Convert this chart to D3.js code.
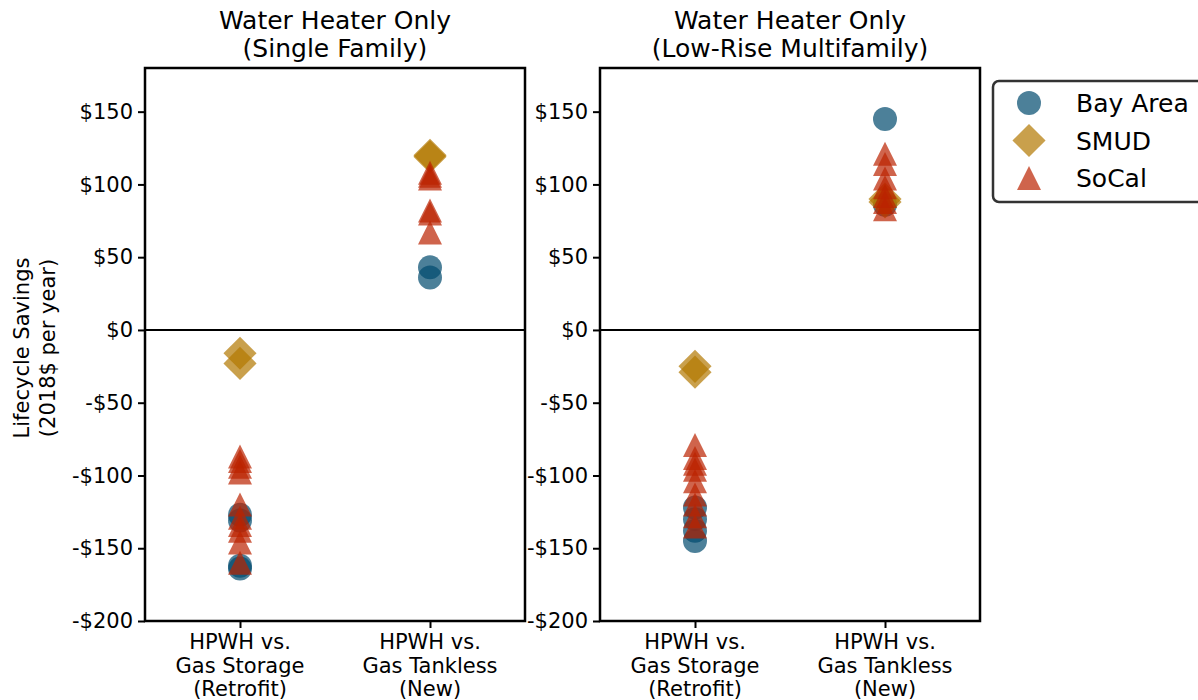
<!DOCTYPE html>
<html><head><meta charset="utf-8">
<script src="https://cdn.jsdelivr.net/npm/d3@7"></script>
<style>body{margin:0;background:#fff}svg{font-family:"DejaVu Sans",sans-serif}</style>
</head><body><svg id="chart" width="1198" height="700"></svg>
<script>
// ---- data ----
const panelTitles = [["Water Heater Only", "(Single Family)"], ["Water Heater Only", "(Low-Rise Multifamily)"]];
const categories = ["retrofit", "new"];
const categoryLabels = [["HPWH vs.", "Gas Storage", "(Retrofit)"], ["HPWH vs.", "Gas Tankless", "(New)"]];
const seriesNames = ["Bay Area", "SMUD", "SoCal"];
const yTicks = [-200, -150, -100, -50, 0, 50, 100, 150];
const yTickLabels = ["-$200", "-$150", "-$100", "-$50", "$0", "$50", "$100", "$150"];
// values per panel [singleFamily, multifamily], per category [retrofit, new]
const bayArea = [[[-127, -131, -162, -164], [43, 36]], [[-122, -130, -138, -145], [145, 86]]];
const smud = [[[-16, -23], [120, 119]], [[-25, -29], [90, 88]]];
const soCal = [
  [[-87, -90, -94, -98, -120, -129, -134, -138, -146, -160], [108, 106, 104, 82, 80, 67]],
  [[-79, -88, -92, -96, -104, -113, -120, -128, -135], [121, 114, 104, 98, 92, 88, 83]]
];

const colors = {"Bay Area": "#004A6D", "SMUD": "#B27700", "SoCal": "#BB2200"};
const seriesData = {"Bay Area": bayArea, "SMUD": smud, "SoCal": soCal};

const svg = d3.select("#chart");
const plotTop = 68, plotBottom = 621;
const panels = [{x0: 145, x1: 525}, {x0: 600, x1: 980}];
const y = d3.scaleLinear().domain([-200, 180]).range([plotBottom, plotTop]);

function markerPath(name, size) {
  if (name === "Bay Area") return d3.symbol(d3.symbolCircle, Math.PI * (size / 2) ** 2)();
  if (name === "SMUD") {
    const h = size * 0.69;
    return `M0,${-h}L${h},0L0,${h}L${-h},0Z`;
  }
  const s = size / 2;
  return `M0,${-s}L${s},${s}L${-s},${s}Z`;
}

panels.forEach((p, pi) => {
  const x = d3.scaleLinear().domain([-0.5, 1.5]).range([p.x0, p.x1]);
  const g = svg.append("g");

  const t = g.append("text").attr("text-anchor", "middle").attr("font-size", 25).attr("fill", "#000");
  panelTitles[pi].forEach((line, i) => t.append("tspan").attr("x", (p.x0 + p.x1) / 2).attr("y", 29 + i * 28).text(line));

  const yAxis = d3.axisLeft(y).tickValues(yTicks).tickFormat((d, i) => yTickLabels[i]).tickSize(7).tickPadding(5);
  const ya = g.append("g").attr("transform", `translate(${p.x0},0)`).call(yAxis);
  ya.select(".domain").remove();
  ya.selectAll("line").attr("stroke", "#000").attr("stroke-width", 2);
  ya.selectAll("text").attr("font-size", 21).attr("font-family", "DejaVu Sans").attr("fill", "#000");

  const xAxis = d3.axisBottom(x).tickValues([0, 1]).tickFormat("").tickSize(7);
  const xa = g.append("g").attr("transform", `translate(0,${plotBottom})`).call(xAxis);
  xa.select(".domain").remove();
  xa.selectAll("line").attr("stroke", "#000").attr("stroke-width", 2);
  categoryLabels.forEach((lines, ci) => {
    const tx = g.append("text").attr("text-anchor", "middle").attr("font-size", 21).attr("fill", "#000");
    lines.forEach((line, li) => tx.append("tspan").attr("x", x(ci)).attr("y", 649 + li * 23.5).text(line));
  });

  g.append("line").attr("x1", p.x0).attr("x2", p.x1).attr("y1", y(0)).attr("y2", y(0))
    .attr("stroke", "#000").attr("stroke-width", 2);

  seriesNames.forEach(name => {
    const vals = seriesData[name][pi];
    categories.forEach((c, ci) => {
      g.selectAll(null).data(vals[ci]).enter().append("path")
        .attr("d", markerPath(name, 24))
        .attr("transform", d => `translate(${x(ci)},${y(d)})`)
        .attr("fill", colors[name]).attr("fill-opacity", 0.7);
    });
  });

  g.append("rect").attr("x", p.x0).attr("y", plotTop).attr("width", p.x1 - p.x0).attr("height", plotBottom - plotTop)
    .attr("fill", "none").attr("stroke", "#000").attr("stroke-width", 2.5);
});

const yl = svg.append("text").attr("text-anchor", "middle").attr("font-size", 21).attr("fill", "#000")
  .attr("transform", "translate(0,348) rotate(-90)");
yl.append("tspan").attr("x", 0).attr("y", 29).text("Lifecycle Savings");
yl.append("tspan").attr("x", 0).attr("y", 55).text("(2018$ per year)");

const lg = svg.append("g");
lg.append("rect").attr("x", 993).attr("y", 81).attr("width", 230).attr("height", 121).attr("rx", 6)
  .attr("fill", "#fff").attr("stroke", "#333").attr("stroke-width", 2.5);
seriesNames.forEach((name, i) => {
  const cy = 103 + i * 37.5;
  lg.append("path").attr("d", markerPath(name, 24)).attr("transform", `translate(1029,${cy})`)
    .attr("fill", colors[name]).attr("fill-opacity", 0.7);
  lg.append("text").attr("x", 1076).attr("y", cy + 9).attr("font-size", 25).attr("fill", "#000").text(name);
});
</script>
</body></html>
